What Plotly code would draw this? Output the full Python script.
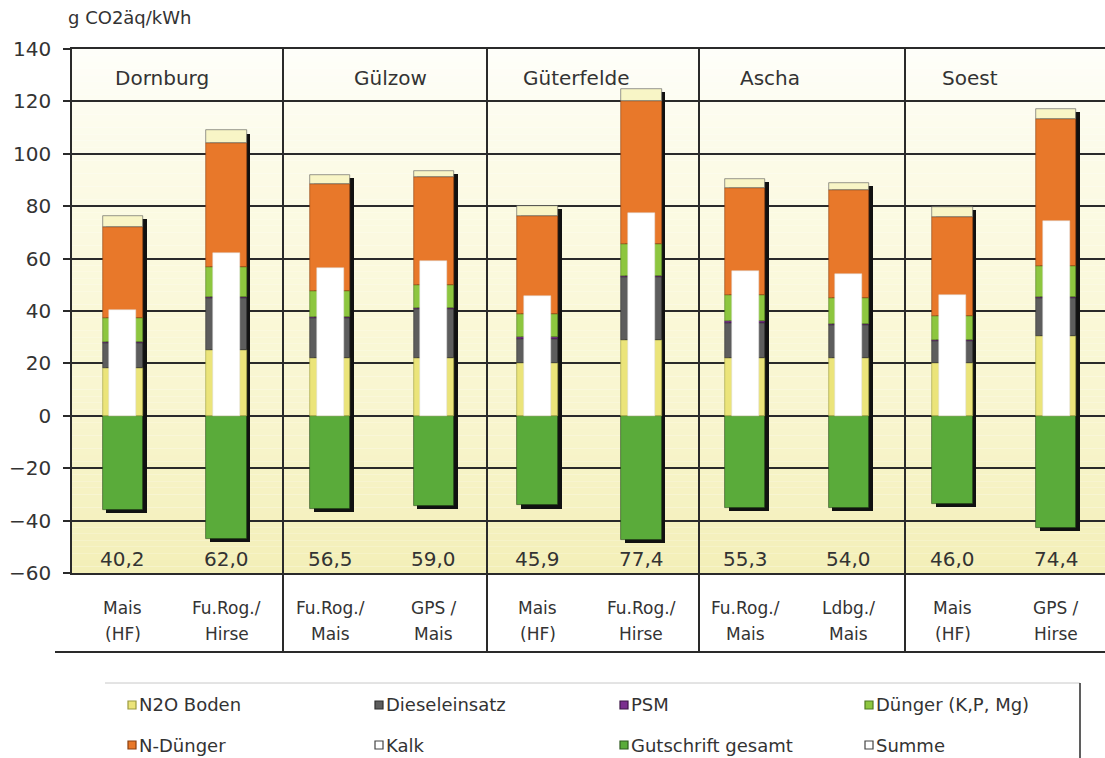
import numpy as np
import plotly.graph_objects as go

# ---- data -------------------------------------------------------------
standorte = ["Dornburg", "Gülzow", "Güterfelde", "Ascha", "Soest"]
fruchtfolge_z1 = ["Mais", "Fu.Rog./", "Fu.Rog./", "GPS /", "Mais",
                  "Fu.Rog./", "Fu.Rog./", "Ldbg./", "Mais", "GPS /"]
fruchtfolge_z2 = ["(HF)", "Hirse", "Mais", "Mais", "(HF)",
                  "Hirse", "Mais", "Mais", "(HF)", "Hirse"]

n2o_boden = [18.4, 25.3, 22.2, 22.0, 20.3, 29.1, 22.0, 22.0, 20.3, 30.3]
dieseleinsatz = [9.5, 19.5, 15.3, 18.6, 9.2, 23.8, 13.6, 12.6, 8.4, 14.5]
psm = [0.4, 0.4, 0.4, 0.4, 0.4, 0.4, 0.4, 0.4, 0.4, 0.4]
duenger_kpmg = [9.2, 11.5, 9.9, 9.0, 8.8, 12.2, 10.0, 10.0, 8.9, 11.9]
n_duenger = [34.5, 47.6, 40.7, 41.0, 37.5, 54.8, 41.0, 41.0, 37.9, 56.3]
kalk = [4.2, 4.6, 3.5, 2.5, 3.9, 4.6, 3.5, 3.0, 3.8, 3.8]
gutschrift = [-36.0, -46.9, -35.5, -34.5, -34.2, -47.5, -35.2, -35.0, -33.7, -42.8]
summe = [40.2, 62.0, 56.5, 59.0, 45.9, 77.4, 55.3, 54.0, 46.0, 74.4]

y_ticks = [-60, -40, -20, 0, 20, 40, 60, 80, 100, 120, 140]

# ---- styling ----------------------------------------------------------
W, H = 1105, 758
ML, MR, MT, MB = 72, 0, 49, 185
PW, PH = W - ML - MR, H - MT - MB
FONT = "DejaVu Sans"
TXT = "#333333"
BAR_W = 0.39
SUM_W = 0.26


def px(xp):
    return (xp - ML) / PW


def py(yp):
    return (H - MB - yp) / PH


stack = [
    ("N2O Boden", n2o_boden, "#ebe47a", "#9a9a40"),
    ("Dieseleinsatz", dieseleinsatz, "#5d5d5d", "#2e2e2e"),
    ("PSM", psm, "#7b2f8e", "#3d1747"),
    ("Dünger (K,P, Mg)", duenger_kpmg, "#8dc63f", "#4f7a20"),
    ("N-Dünger", n_duenger, "#e8782a", "#8a3f10"),
    ("Kalk", kalk, "#f8f5c6", "#555555"),
]
gut_col = "#5aab3a"

x = np.arange(len(summe))
layers = np.array([s[1] for s in stack])
tops = np.cumsum(layers, axis=0)
bases = tops - layers
total = tops[-1]
gut = np.array(gutschrift)

fig = go.Figure()

# drop shadow behind each column
shadow_dy = 1.2
fig.add_trace(go.Bar(
    x=x, y=total - gut, base=gut - shadow_dy, width=BAR_W,
    offset=-BAR_W / 2 + 0.035,
    marker=dict(color="#111111", line=dict(width=0)),
    showlegend=False, hoverinfo="skip"))

# negative credit
fig.add_trace(go.Bar(
    x=x, y=gut, base=0, width=BAR_W, name="Gutschrift gesamt",
    marker=dict(color=gut_col, line=dict(color="rgba(30,60,20,0.7)", width=0.8)),
    showlegend=False))

# positive emission components
for (name, vals, col, edge), b in zip(stack, bases):
    fig.add_trace(go.Bar(
        x=x, y=vals, base=b, width=BAR_W, name=name,
        marker=dict(color=col, line=dict(color=edge, width=0.6)),
        showlegend=False))

# net balance as narrow white column
fig.add_trace(go.Bar(
    x=x, y=summe, base=0, width=SUM_W, name="Summe",
    marker=dict(color="#ffffff", line=dict(color="#dddddd", width=0.5)),
    showlegend=False))

shapes = []

# vertical gradient of the plotting area
stops_v = [140, 100, 40, 0, -60]
stops_c = [(254, 254, 250), (252, 251, 232), (250, 248, 216), (248, 245, 206), (243, 239, 184)]
edges = np.linspace(140, -60, 81)
for y0, y1 in zip(edges[:-1], edges[1:]):
    ym = (y0 + y1) / 2
    rgb = [np.interp(-ym, [-v for v in stops_v], [c[k] for c in stops_c]) for k in range(3)]
    shapes.append(dict(type="rect", xref="paper", yref="y", x0=0, x1=1, y0=y1, y1=y0,
                       fillcolor="rgb(%d,%d,%d)" % tuple(int(round(c)) for c in rgb),
                       line=dict(width=0), layer="below"))

# group separators, continued through the label table
for xp in [283, 487, 699, 905]:
    shapes.append(dict(type="line", xref="paper", yref="paper",
                       x0=px(xp), x1=px(xp), y0=1, y1=py(652),
                       line=dict(color="#2a2a2a", width=2)))
# bottom rule of the label table
shapes.append(dict(type="line", xref="paper", yref="paper",
                   x0=px(55), x1=1.0, y0=py(652), y1=py(652),
                   line=dict(color="#2a2a2a", width=2)))
# legend frame
shapes.append(dict(type="line", xref="paper", yref="paper",
                   x0=px(105), x1=px(1080), y0=py(683), y1=py(683),
                   line=dict(color="#c8c8c8", width=1)))
shapes.append(dict(type="line", xref="paper", yref="paper",
                   x0=px(1080), x1=px(1080), y0=py(683), y1=py(760),
                   line=dict(color="#2a2a2a", width=1.5)))

annotations = []

# axis unit
annotations.append(dict(text="g CO2äq/kWh", xref="paper", yref="paper",
                        x=px(66), y=py(18), xanchor="left", yanchor="middle",
                        showarrow=False, font=dict(family=FONT, size=18, color=TXT)))

# site names
for name, xp in zip(standorte, [113, 352, 521, 738, 940]):
    annotations.append(dict(text=name, xref="paper", yref="paper",
                            x=px(xp), y=py(78), xanchor="left", yanchor="middle",
                            showarrow=False, font=dict(family=FONT, size=20, color=TXT)))

# net values and crop rotation labels
for i in range(len(summe)):
    annotations.append(dict(text=f"{summe[i]:.1f}".replace(".", ","),
                            x=i, xref="x", yref="paper", y=py(559),
                            xanchor="center", yanchor="middle", showarrow=False,
                            font=dict(family=FONT, size=20, color=TXT)))
    for line_txt, yp in ((fruchtfolge_z1[i], 608), (fruchtfolge_z2[i], 634)):
        annotations.append(dict(text=line_txt, x=i, xref="x", yref="paper", y=py(yp),
                                xanchor="center", yanchor="middle", showarrow=False,
                                font=dict(family=FONT, size=17, color=TXT)))

# legend
legend_items = [
    ("N2O Boden", stack[0][2], stack[0][3]),
    ("Dieseleinsatz", stack[1][2], stack[1][3]),
    ("PSM", stack[2][2], stack[2][3]),
    ("Dünger (K,P, Mg)", stack[3][2], stack[3][3]),
    ("N-Dünger", stack[4][2], stack[4][3]),
    ("Kalk", "#ffffff", "#444444"),
    ("Gutschrift gesamt", gut_col, "#2f5a1e"),
    ("Summe", "#ffffff", "#444444"),
]
col_x = [128, 375, 620, 865]
row_y = [705, 745]
for k, (name, fill, edge) in enumerate(legend_items):
    cx, ry = col_x[k % 4], row_y[k // 4]
    shapes.append(dict(type="rect", xref="paper", yref="paper",
                       x0=px(cx), x1=px(cx + 8), y0=py(ry + 4), y1=py(ry - 4),
                       fillcolor=fill, line=dict(color=edge, width=1.2)))
    annotations.append(dict(text=name, xref="paper", yref="paper",
                            x=px(cx + 9), y=py(ry), xanchor="left", yanchor="middle",
                            showarrow=False, font=dict(family=FONT, size=18, color=TXT)))

fig.update_layout(
    width=W, height=H,
    margin=dict(l=ML, r=MR, t=MT, b=MB, pad=0),
    barmode="overlay", bargap=0,
    paper_bgcolor="#ffffff", plot_bgcolor="#ffffff",
    showlegend=False,
    shapes=shapes, annotations=annotations,
    xaxis=dict(range=[-0.49, 9.47], showticklabels=False, ticks="",
               showgrid=False, zeroline=False, showline=True, mirror=True,
               linecolor="#2a2a2a", linewidth=1.5, fixedrange=True),
    yaxis=dict(range=[-60, 140], tickvals=y_ticks, ticks="outside", ticklen=7,
               tickwidth=1.5, tickcolor="#2a2a2a",
               showgrid=True, gridcolor="#2a2a2a", gridwidth=1.5,
               zeroline=True, zerolinecolor="#2a2a2a", zerolinewidth=1.5,
               showline=True, linecolor="#2a2a2a", linewidth=1.5,
               ticklabelstandoff=8,
               tickfont=dict(family=FONT, size=20, color=TXT), fixedrange=True),
)

fig.write_html("out.html")
